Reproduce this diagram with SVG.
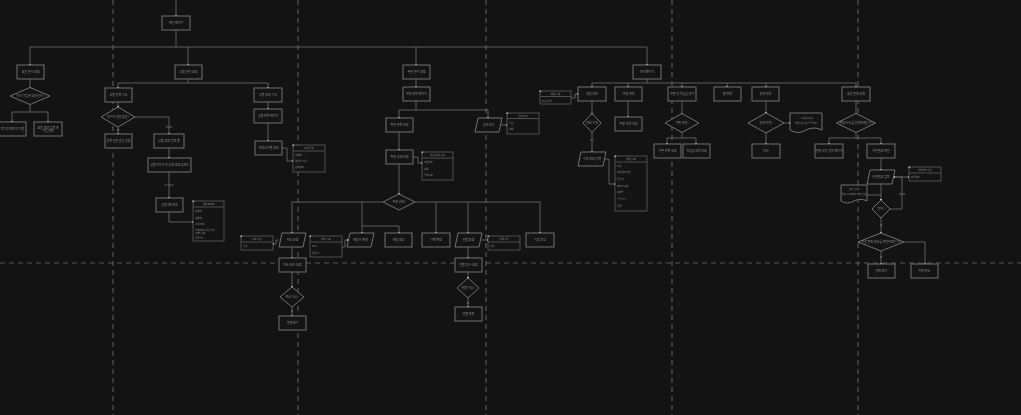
<svg xmlns="http://www.w3.org/2000/svg" width="1021" height="415" viewBox="0 0 1021 415">
<style>
.g{stroke:#565656;stroke-width:1.2;stroke-dasharray:5 4;fill:none}
.n{fill:#141414;stroke:#707070;stroke-width:1}
.e{fill:#141414;stroke:#5c5c5c;stroke-width:0.8}
.c{fill:none;stroke:#6e6e6e;stroke-width:0.8}
.a{fill:none;stroke:#6e6e6e;stroke-width:0.8;marker-end:url(#m)}
text{font-family:"Noto Sans CJK KR","Noto Sans",sans-serif;fill:#8c8c8c;font-size:3px;text-anchor:middle;dominant-baseline:central}
text.s{font-size:2.4px;text-anchor:start}
text.l{font-size:2.4px}
.k{fill:#b0b0b0}
</style>
<defs>
<marker id="m" markerUnits="userSpaceOnUse" markerWidth="2" markerHeight="2" refX="1" refY="1" viewBox="0 0 2 2"><rect width="2" height="2" fill="#b5b5b5"/></marker>
</defs>
<rect width="1021" height="415" fill="#131313"/>
<g id="grid">
<line class="g" x1="113" y1="0" x2="113" y2="415"/>
<line class="g" x1="298" y1="0" x2="298" y2="415"/>
<line class="g" x1="486" y1="0" x2="486" y2="415"/>
<line class="g" x1="672" y1="0" x2="672" y2="415"/>
<line class="g" x1="858" y1="0" x2="858" y2="415"/>
<line class="g" x1="0" y1="263" x2="1021" y2="263"/>
</g>
<g id="connectors">
<path class="a" d="M176 0V16"/>
<path class="c" d="M176 30V47M30 47H647"/>
<path class="a" d="M30 47V65"/><path class="a" d="M188 47V65"/><path class="a" d="M416 47V65"/><path class="a" d="M647 47V65"/>
<path class="a" d="M30 79V87.5"/>
<path class="c" d="M30 104.5V112M12 112H48"/>
<path class="a" d="M12 112V122"/><path class="a" d="M48 112V122"/>
<path class="c" d="M188 79V83M118 83H268"/>
<path class="a" d="M118 83V88"/><path class="a" d="M268 83V88"/>
<path class="a" d="M118 102V107"/>
<path class="a" d="M118 127V134"/>
<path class="a" d="M135 117H169V134"/>
<path class="a" d="M169 148V158"/>
<path class="a" d="M169 172V198"/>
<path class="a" d="M169 212V222H193"/>
<path class="a" d="M268 102V109"/>
<path class="a" d="M268 123V141"/>
<path class="a" d="M282 148H287V161H293"/>
<path class="a" d="M416 79V87"/>
<path class="c" d="M416 101V110M399 110H488"/>
<path class="a" d="M399 110V118"/><path class="a" d="M488 110V118"/>
<path class="a" d="M501 125H507"/>
<path class="a" d="M399 132V150"/>
<path class="a" d="M413 157H418V163H422"/>
<path class="a" d="M399 164V194"/>
<path class="c" d="M383 202H292M415 202H540M362 226H399"/>
<path class="a" d="M292 202V233"/><path class="a" d="M362 202V233"/><path class="a" d="M399 226V233"/>
<path class="a" d="M436 202V233"/><path class="a" d="M468 202V233"/><path class="a" d="M540 202V233"/>
<path class="a" d="M279 240H276V244H273"/>
<path class="a" d="M342 247H345V240H348"/>
<path class="a" d="M482 240H488"/>
<path class="a" d="M292 247V258"/><path class="a" d="M292 272V287"/><path class="a" d="M292 307V316"/>
<path class="a" d="M468 247V258"/><path class="a" d="M468 272V278"/><path class="a" d="M468 298V307"/>
<path class="c" d="M647 79V83M592 83H856"/>
<path class="a" d="M592 83V87"/><path class="a" d="M628 83V87"/><path class="a" d="M682 83V87"/><path class="a" d="M727 83V87"/><path class="a" d="M766 83V87"/><path class="a" d="M856 83V87"/>
<path class="a" d="M571 98H575V94H578"/>
<path class="a" d="M592 101V113.5"/><path class="a" d="M592 132.5V152"/>
<path class="a" d="M604 159H609V184H615"/>
<path class="a" d="M628 101V117"/>
<path class="a" d="M682 101V113.5"/>
<path class="c" d="M682 132.5V138M667 138H696"/>
<path class="a" d="M667 138V144"/><path class="a" d="M696 138V144"/>
<path class="a" d="M766 101V113"/><path class="a" d="M784 123H790"/><path class="a" d="M766 133V144"/>
<path class="a" d="M856 101V113.5"/>
<path class="c" d="M856 132.5V138M829 138H881"/>
<path class="a" d="M829 138V144"/><path class="a" d="M881 138V144"/>
<path class="a" d="M881 158V170"/>
<path class="a" d="M893 177H909"/>
<path class="a" d="M902 209V177H894"/>
<path class="c" d="M890 209H902"/>
<path class="a" d="M881 184V200"/>
<path class="c" d="M867 195H881"/>
<path class="a" d="M881 218V233"/>
<path class="a" d="M881 251V264"/>
<path class="a" d="M904 242H925V264"/>
<text class="l" x="118" y="130">예</text>
<text class="l" x="169" y="127">아니오</text>
<text class="l" x="169" y="185">저장 요청</text>
<text class="l" x="292" y="311">예</text>
<text class="l" x="468" y="303">예</text>
<text class="l" x="592" y="140">수정</text>
<text class="l" x="902" y="194">아니오</text>
<text class="l" x="881" y="225">예</text>
<text class="l" x="881" y="257">예</text>
</g>
<g id="n_main"><rect class="n" x="162" y="16" width="28" height="14"/><text x="176" y="23">메인 페이지</text></g>
<g id="A1"><rect class="n" x="17" y="65" width="27" height="14"/><text x="30.5" y="72">회원 관리 요청</text></g>
<g id="A2"><polygon class="n" points="30,87.5 50,96 30,104.5 10,96"/><text x="30" y="96">이미 가입된 회원인가?</text></g>
<g id="A3"><rect class="n" x="-1" y="122" width="27" height="14"/><text x="12.5" y="129">로그인 페이지 이동</text></g>
<g id="A4"><rect class="n" x="34" y="122" width="28" height="14"/><text x="48" y="127.5">회원 정보 입력 후</text><text x="48" y="131">가입 완료</text></g>
<g id="B1"><rect class="n" x="175" y="65" width="27" height="14"/><text x="188.5" y="72">상품 관리 요청</text></g>
<g id="B2"><rect class="n" x="105" y="88" width="27" height="14"/><text x="118.5" y="95">상품 등록 기능</text></g>
<g id="B3"><polygon class="n" points="118,107 135,117 118,127 101,117"/><text x="118" y="117">관리자 권한 있음?</text></g>
<g id="B4"><rect class="n" x="105" y="134" width="27" height="14"/><text x="118.5" y="141">등록 권한 없음 알림</text></g>
<g id="B5"><rect class="n" x="154" y="134" width="30" height="14"/><text x="169" y="141">상품 정보 입력 폼</text></g>
<g id="B6"><rect class="n" x="148" y="158" width="43" height="14"/><text x="169.5" y="165">상품 이미지 및 상세 정보 업로드</text></g>
<g id="B7"><rect class="n" x="156" y="198" width="27" height="14"/><text x="169.5" y="205">상품 DB 저장</text></g>
<g id="B8"><rect class="e" x="193" y="201" width="31" height="40"/><line class="e" x1="193" y1="207" x2="224" y2="207"/><rect class="k" x="192.5" y="200.5" width="1.6" height="1.6"/><text class="l" x="208.5" y="204">상품 테이블</text><text class="s" x="195" y="211">상품ID</text><text class="s" x="195" y="217.5">상품명</text><text class="s" x="195" y="224">가격/재고</text><text class="s" x="195" y="230">카테고리/옵션/설명</text><text class="s" x="195" y="233">/배송 정보</text><text class="s" x="195" y="238">등록일시</text></g>
<g id="B9"><rect class="n" x="254" y="88" width="28" height="14"/><text x="268" y="95">상품 조회 기능</text></g>
<g id="B10"><rect class="n" x="254" y="109" width="28" height="14"/><text x="268" y="116">상품 목록 페이지</text></g>
<g id="B11"><rect class="n" x="255" y="141" width="27" height="14"/><text x="268.5" y="148">카테고리별 조회</text></g>
<g id="B12"><rect class="e" x="293" y="145" width="32" height="27"/><line class="e" x1="293" y1="151" x2="325" y2="151"/><rect class="k" x="292.5" y="144.5" width="1.6" height="1.6"/><text class="l" x="309" y="148">조회 결과</text><text class="s" x="295" y="155">상품명</text><text class="s" x="295" y="161">썸네일/가격</text><text class="s" x="295" y="167">판매상태</text></g>
<g id="C1"><rect class="n" x="403" y="65" width="27" height="14"/><text x="416.5" y="72">주문 관리 요청</text></g>
<g id="C2"><rect class="n" x="403" y="87" width="27" height="14"/><text x="416.5" y="94">주문 내역 페이지</text></g>
<g id="C3"><rect class="n" x="386" y="118" width="27" height="14"/><text x="399.5" y="125">주문 목록 조회</text></g>
<g id="C4"><polygon class="n" points="478,118 502,118 499,132 475,132"/><text x="488.5" y="125">검색 조건</text></g>
<g id="C5"><rect class="e" x="507" y="113" width="32" height="21"/><line class="e" x1="507" y1="118.5" x2="539" y2="118.5"/><rect class="k" x="506.5" y="112.5" width="1.6" height="1.6"/><text class="l" x="523" y="116">검색 조건</text><text class="s" x="509" y="122.5">기간</text><text class="s" x="509" y="129">상태</text></g>
<g id="C6"><rect class="n" x="386" y="150" width="27" height="14"/><text x="399.5" y="157">주문 상세 조회</text></g>
<g id="C7"><rect class="e" x="422" y="152" width="31" height="28"/><line class="e" x1="422" y1="158" x2="453" y2="158"/><rect class="k" x="421.5" y="151.5" width="1.6" height="1.6"/><text class="l" x="437.5" y="155">주문 상세 정보</text><text class="s" x="424" y="162">주문번호</text><text class="s" x="424" y="168.5">상품</text><text class="s" x="424" y="175">결제정보</text></g>
<g id="C8"><polygon class="n" points="399,194 415,202 399,210 383,202"/><text x="399" y="202">주문 상태?</text></g>
<g id="C9"><rect class="e" x="241" y="236" width="32" height="14"/><line class="e" x1="241" y1="242" x2="273" y2="242"/><rect class="k" x="240.5" y="235.5" width="1.6" height="1.6"/><text class="l" x="257" y="239">취소 사유</text><text class="s" x="243" y="246">사유</text></g>
<g id="C10"><polygon class="n" points="282,233 306,233 303,247 279,247"/><text x="292.5" y="240">취소 요청</text></g>
<g id="C11"><rect class="e" x="310" y="236" width="32" height="21"/><line class="e" x1="310" y1="242" x2="342" y2="242"/><rect class="k" x="309.5" y="235.5" width="1.6" height="1.6"/><text class="l" x="326" y="239">배송 정보</text><text class="s" x="312" y="246">주소</text><text class="s" x="312" y="252.5">연락처</text></g>
<g id="C12"><polygon class="n" points="350,233 374,233 371,247 347,247"/><text x="360.5" y="240">배송지 변경</text></g>
<g id="C13"><rect class="n" x="385" y="233" width="27" height="14"/><text x="398.5" y="240">배송 조회</text></g>
<g id="C14"><rect class="n" x="422" y="233" width="28" height="14"/><text x="436" y="240">구매 확정</text></g>
<g id="C15"><polygon class="n" points="458,233 482,233 479,247 455,247"/><text x="468.5" y="240">반품 요청</text></g>
<g id="C16"><rect class="e" x="488" y="236" width="32" height="14"/><line class="e" x1="488" y1="242" x2="520" y2="242"/><rect class="k" x="487.5" y="235.5" width="1.6" height="1.6"/><text class="l" x="504" y="239">반품 사유</text><text class="s" x="490" y="246">사유</text></g>
<g id="C17"><rect class="n" x="526" y="233" width="28" height="14"/><text x="540" y="240">리뷰 작성</text></g>
<g id="C18"><rect class="n" x="279" y="258" width="27" height="14"/><text x="292.5" y="265">취소 처리 요청</text></g>
<g id="C19"><polygon class="n" points="292,287 304,297 292,307 280,297"/><text x="292" y="297">취소 가능?</text></g>
<g id="C20"><rect class="n" x="279" y="316" width="27" height="14"/><text x="292.5" y="323">환불 처리</text></g>
<g id="C21"><rect class="n" x="455" y="258" width="27" height="14"/><text x="468.5" y="265">반품 접수 요청</text></g>
<g id="C22"><polygon class="n" points="468,278 479,288 468,298 457,288"/><text x="468" y="288">반품 가능?</text></g>
<g id="C23"><rect class="n" x="455" y="307" width="27" height="14"/><text x="468.5" y="314">반품 완료</text></g>
<g id="D1"><rect class="n" x="633" y="65" width="28" height="14"/><text x="647" y="72">마이페이지</text></g>
<g id="D2"><rect class="e" x="540" y="91" width="31" height="13"/><line class="e" x1="540" y1="96.5" x2="571" y2="96.5"/><rect class="k" x="539.5" y="90.5" width="1.6" height="1.6"/><text class="l" x="555.5" y="94">회원 정보</text><text class="s" x="542" y="100.5">이름/등급</text></g>
<g id="D3"><rect class="n" x="578" y="87" width="28" height="14"/><text x="592" y="94">회원 정보</text></g>
<g id="D4"><rect class="n" x="615" y="87" width="27" height="14"/><text x="628.5" y="94">주문 내역</text></g>
<g id="D5"><rect class="n" x="668" y="87" width="28" height="14"/><text x="682" y="94">쿠폰 및 적립금 관리</text></g>
<g id="D6"><rect class="n" x="714" y="87" width="27" height="14"/><text x="727.5" y="94">찜 목록</text></g>
<g id="D7"><rect class="n" x="752" y="87" width="27" height="14"/><text x="765.5" y="94">문의 내역</text></g>
<g id="D8"><rect class="n" x="842" y="87" width="28" height="14"/><text x="856" y="94">회원 탈퇴 요청</text></g>
<g id="D9"><polygon class="n" points="592,113.5 601,123 592,132.5 583,123"/><text x="592" y="123">정보 수정</text></g>
<g id="D10"><polygon class="n" points="581,152 606,152 603,166 578,166"/><text x="592" y="159">수정 정보 입력</text></g>
<g id="D11"><rect class="e" x="615" y="156" width="32" height="55"/><line class="e" x1="615" y1="162" x2="647" y2="162"/><rect class="k" x="614.5" y="155.5" width="1.6" height="1.6"/><text class="l" x="631" y="159">회원 정보</text><text class="s" x="617" y="165.5">이름</text><text class="s" x="617" y="172">비밀번호 변경</text><text class="s" x="617" y="178.5">연락처</text><text class="s" x="617" y="185.5">배송지 관리</text><text class="s" x="617" y="192">이메일</text><text class="s" x="617" y="198.5">알림 설정</text><text class="s" x="617" y="205.5">등급</text></g>
<g id="D12"><rect class="n" x="615" y="117" width="27" height="14"/><text x="628.5" y="124">주문 내역 조회</text></g>
<g id="D13"><polygon class="n" points="682,113.5 699,123 682,132.5 665,123"/><text x="682" y="123">쿠폰 사용?</text></g>
<g id="D14"><rect class="n" x="654" y="144" width="27" height="14"/><text x="667.5" y="151">쿠폰 목록 조회</text></g>
<g id="D15"><rect class="n" x="683" y="144" width="27" height="14"/><text x="696.5" y="151">적립금 내역 조회</text></g>
<g id="D16"><polygon class="n" points="766,113 784,123 766,133 748,123"/><text x="766" y="123">문의 유형?</text></g>
<g id="D17"><path class="n" d="M790 113H822V130Q814 126 806 130Q798 135 790 130Z"/><text class="l" x="806" y="118">1:1 문의 작성</text><text class="l" x="806" y="122.5">답변 확인 및 알림 발송</text></g>
<g id="D18"><rect class="n" x="752" y="144" width="28" height="14"/><text x="766" y="151">FAQ</text></g>
<g id="D19"><polygon class="n" points="856,113.5 875.5,123 856,132.5 836.5,123"/><text x="856" y="123">탈퇴 사유를 입력하였는가?</text></g>
<g id="D20"><rect class="n" x="815" y="144" width="28" height="14"/><text x="829" y="151">탈퇴 사유 입력 페이지</text></g>
<g id="D21"><rect class="n" x="867" y="144" width="28" height="14"/><text x="881" y="151">비밀번호 확인</text></g>
<g id="D22"><polygon class="n" points="870,170 895,170 892,184 867,184"/><text x="881" y="177">비밀번호 입력</text></g>
<g id="D23"><rect class="e" x="909" y="167" width="32" height="14"/><line class="e" x1="909" y1="173" x2="941" y2="173"/><rect class="k" x="908.5" y="166.5" width="1.6" height="1.6"/><text class="l" x="925" y="170">비밀번호 확인</text><text class="s" x="911" y="177">비밀번호</text></g>
<g id="D24"><path class="n" d="M841 185H867V201Q860.5 197.5 854 201Q847.5 205 841 201Z"/><text class="l" x="854" y="189">보안 안내</text><text class="l" x="854" y="193.5">탈퇴 시 데이터 삭제 안내</text></g>
<g id="D25"><polygon class="n" points="881,200 890,209 881,218 872,209"/><text x="881" y="209">일치?</text></g>
<g id="D26"><polygon class="n" points="881,233 904,242 881,251 858,242"/><text x="881" y="242">최종 탈퇴 의사를 확인하였는가?</text></g>
<g id="D27"><rect class="n" x="868" y="264" width="27" height="14"/><text x="881.5" y="271">탈퇴 처리</text></g>
<g id="D28"><rect class="n" x="911" y="264" width="27" height="14"/><text x="924.5" y="271">탈퇴 취소</text></g>
</svg>
